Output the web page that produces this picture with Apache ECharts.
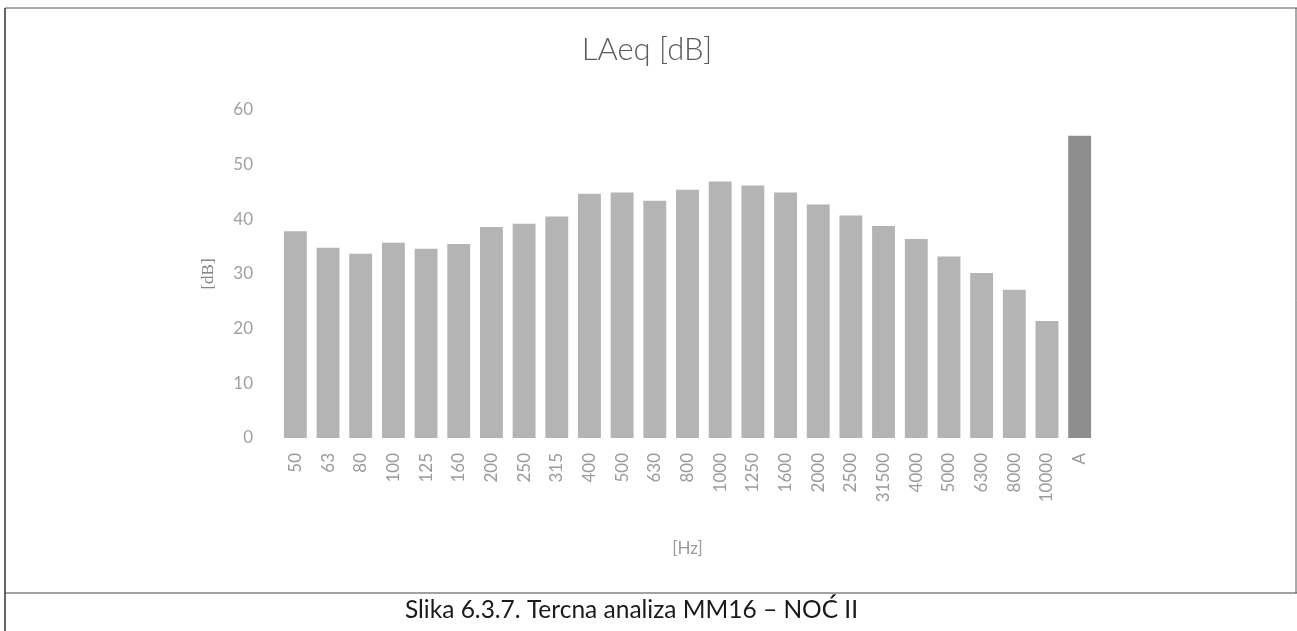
<!DOCTYPE html>
<html>
<head>
<meta charset="utf-8">
<script src="https://cdn.jsdelivr.net/npm/echarts@6/dist/echarts.min.js"></script>
<style>
html,body{margin:0;padding:0;background:#fff;}
#c{width:1297px;height:631px;}
</style>
</head>
<body>
<div id="c"></div>
<script>
const categories = ['50','63','80','100','125','160','200','250','315','400','500','630','800','1000','1250','1600','2000','2500','31500','4000','5000','6300','8000','10000','A'];
const values = [37.8,34.8,33.7,35.7,34.6,35.5,38.6,39.2,40.5,44.7,44.9,43.4,45.4,46.9,46.2,44.9,42.7,40.7,38.8,36.4,33.2,30.2,27.1,21.4,55.3];
const yTicks = [0,10,20,30,40,50,60];
const titleText = 'LAeq [dB]';
const yName = '[dB]';
const xName = '[Hz]';
const captionText = 'Slika 6.3.7. Tercna analiza MM16 – NOĆ II';

const chart = echarts.init(document.getElementById('c'), null, {renderer:'canvas'});
const option = {
  backgroundColor:'#fff',
  animation:false,
  title:{
    text:titleText, left:642, textAlign:'center', top:29,
    textStyle:{fontFamily:'Lato', fontWeight:300, fontSize:31, color:'#5a5a5a'}
  },
  grid:{left:279, right:201, top:110, bottom:193, containLabel:false},
  xAxis:{
    type:'category', data:categories,
    axisLine:{show:false}, axisTick:{show:false},
    axisLabel:{rotate:90, margin:15, color:'#9a9a9a', fontFamily:'Lato', fontSize:17},
    name:xName, nameLocation:'middle', nameGap:102,
    nameTextStyle:{color:'#9a9a9a', fontFamily:'Lato', fontSize:17}
  },
  yAxis:{
    type:'value', min:yTicks[0], max:yTicks[yTicks.length-1], interval:10,
    splitLine:{show:false}, axisLine:{show:false}, axisTick:{show:false},
    axisLabel:{color:'#a0a0a0', fontFamily:'Lato', fontSize:17, margin:26},
    name:yName, nameLocation:'middle', nameGap:62, nameRotate:90,
    nameTextStyle:{color:'#858585', fontFamily:'Liberation Serif', fontSize:17}
  },
  series:[{
    type:'bar', data:values.map((v,i)=>({value:v, itemStyle:{color: categories[i]==='A' ? '#8e8e8e' : '#b4b4b4'}})),
    barWidth:'70%'
  }],
  graphic:[
    {type:'line', shape:{x1:5,y1:8,x2:1297,y2:8}, style:{stroke:'#555', lineWidth:1}},
    {type:'line', shape:{x1:5,y1:8,x2:5,y2:631}, style:{stroke:'#333', lineWidth:1.5}},
    {type:'line', shape:{x1:1296,y1:8,x2:1296,y2:593}, style:{stroke:'#555', lineWidth:1}},
    {type:'line', shape:{x1:5,y1:593,x2:1297,y2:593}, style:{stroke:'#444', lineWidth:1.2}},
    {type:'text', left:405, top:598, style:{text:captionText, fontFamily:'Lato', fontSize:24.5, fill:'#1a1a1a'}}
  ]
};
chart.setOption(option);
</script>
</body>
</html>
